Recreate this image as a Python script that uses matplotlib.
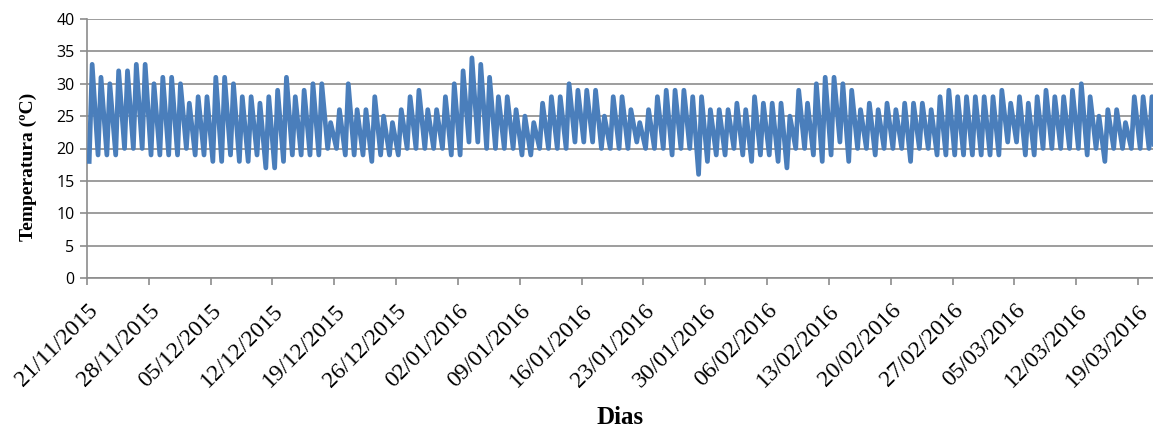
import pandas as pd
import matplotlib
matplotlib.use('Agg')
import matplotlib.pyplot as plt

start = '2015-11-21'

# daily minimum (early morning) and maximum (afternoon) temperatures, ºC
t_min = [18, 19, 19, 19, 20, 20, 20, 19, 19, 19, 19, 20, 19, 19, 18, 18, 19,
         18, 18, 19, 17, 17, 18, 19, 19, 19, 19, 20, 20, 19, 19, 19, 18, 19,
         19, 19, 20, 20, 20, 20, 20, 19, 19, 21, 21, 20, 20, 20, 20, 19, 19,
         20, 20, 20, 20, 21, 21, 21, 20, 20, 20, 20, 21, 20, 20, 20, 19, 20,
         20, 16, 18, 19, 19, 20, 19, 18, 19, 19, 18, 17, 20, 20, 19, 18, 19,
         21, 18, 20, 20, 19, 20, 20, 20, 18, 20, 20, 19, 19, 19, 19, 19, 19,
         19, 19, 21, 21, 19, 19, 20, 20, 20, 20, 20, 19, 20, 18, 20, 20, 20,
         20, 20]
t_max = [33, 31, 30, 32, 32, 33, 33, 30, 31, 31, 30, 27, 28, 28, 31, 31, 30,
         28, 28, 27, 28, 29, 31, 28, 29, 30, 30, 24, 26, 30, 26, 26, 28, 25,
         24, 26, 28, 29, 26, 26, 28, 30, 32, 34, 33, 31, 28, 28, 26, 25, 24,
         27, 28, 28, 30, 29, 29, 29, 25, 28, 28, 26, 24, 26, 28, 29, 29, 29,
         28, 28, 26, 26, 26, 27, 26, 28, 27, 27, 27, 25, 29, 27, 30, 31, 31,
         30, 29, 26, 27, 26, 27, 26, 27, 27, 27, 26, 28, 29, 28, 28, 28, 28,
         28, 29, 27, 28, 27, 28, 29, 28, 28, 29, 30, 28, 25, 26, 26, 24, 28,
         28, 28]
t_last = 20

tick_labels = ['21/11/2015', '28/11/2015', '05/12/2015', '12/12/2015',
               '19/12/2015', '26/12/2015', '02/01/2016', '09/01/2016',
               '16/01/2016', '23/01/2016', '30/01/2016', '06/02/2016',
               '13/02/2016', '20/02/2016', '27/02/2016', '05/03/2016',
               '12/03/2016', '19/03/2016']

days = pd.date_range(start, periods=len(t_max), freq='D')
times, temps = [], []
for d, lo, hi in zip(days, t_min, t_max):
    times += [d + pd.Timedelta(hours=6), d + pd.Timedelta(hours=14)]
    temps += [lo, hi]
times.append(days[-1] + pd.Timedelta(hours=20))
temps.append(t_last)

fig = plt.figure(figsize=(11.53, 4.29), dpi=100)
ax = fig.add_axes([87 / 1153, 1 - 278 / 429, 1 - 87 / 1153, (278 - 19) / 429])

ax.plot(times, temps, color='#4a7ebb', lw=3.4, solid_joinstyle='round', zorder=3)

ax.set_ylim(0, 40)
ax.set_yticks(range(0, 41, 5))
ax.set_xlim(pd.Timestamp(start), pd.Timestamp(start) + pd.Timedelta(days=120.7))
tick_dates = pd.to_datetime(tick_labels, dayfirst=True)
ax.set_xticks(tick_dates)
ax.set_xticklabels(tick_labels, rotation=45, ha='right', va='top',
                   rotation_mode='anchor', family='Liberation Serif', fontsize=17)
for lab in ax.get_yticklabels():
    lab.set_family('Open Sans')
    lab.set_fontsize(11.5)

ax.grid(axis='y', color='#8c8c8c', lw=1.2)
ax.set_axisbelow(True)
for s in ['top', 'right']:
    ax.spines[s].set_visible(False)
for s in ['left', 'bottom']:
    ax.spines[s].set_color('#8c8c8c')
    ax.spines[s].set_linewidth(1.2)
ax.tick_params(axis='both', color='#8c8c8c', width=1.2, length=5)
ax.tick_params(axis='x', pad=11)
ax.tick_params(axis='y', pad=4)

ax.set_ylabel('Temperatura (ºC)', family='Liberation Serif', fontweight='bold',
              fontsize=14)
ax.yaxis.set_label_coords(-0.047, 0.43)
ax.set_xlabel('Dias', family='Liberation Serif', fontweight='bold', fontsize=18,
              va='center')
ax.xaxis.set_label_coords(0.5, -0.54)

fig.savefig('out.png', dpi=100)
